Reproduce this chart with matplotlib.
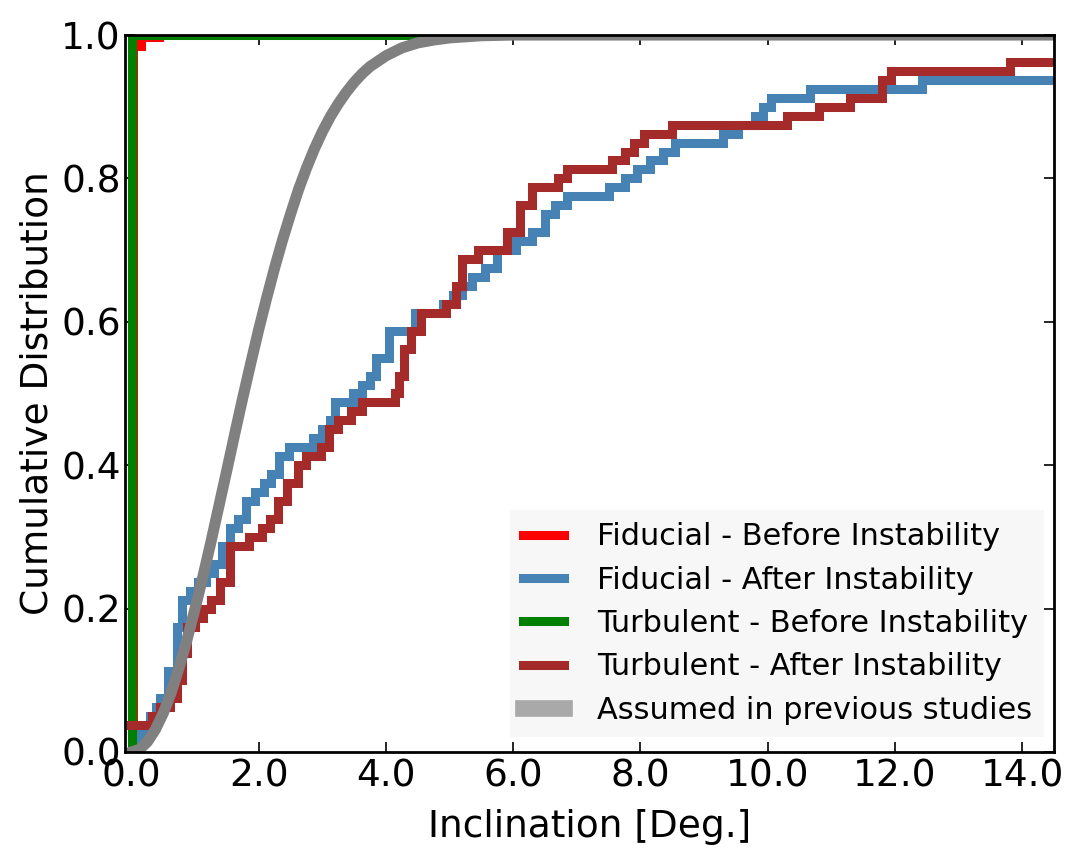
import matplotlib
matplotlib.use('Agg')
import matplotlib.pyplot as plt
from matplotlib.lines import Line2D

# cumulative distributions (step corners)
red_x = [0.0, 0.02, 0.15, 0.43]
red_y = [0.0, 0.985, 0.9975, 0.9975]

green_x = [0.0, 0.01, 14.6]
green_y = [0.0, 1.0, 1.0]

blue_x = [0.00, 0.09, 0.30, 0.38, 0.45, 0.57, 0.72, 0.80, 0.92, 1.05,
          1.18, 1.30, 1.42, 1.55, 1.68, 1.80, 1.95, 2.08, 2.20, 2.32,
          2.48, 2.85, 3.00, 3.12, 3.20, 3.48, 3.62, 3.75, 3.85, 4.05,
          4.45, 4.90, 5.05, 5.20, 5.35, 5.55, 5.75, 6.05, 6.30, 6.50,
          6.65, 6.85, 7.50, 7.75, 7.95, 8.15, 8.35, 8.55, 9.29, 9.54,
          9.80, 9.92, 10.05, 10.66, 12.43, 14.6]
blue_y = [0.0, 0.025, 0.05, 0.0625, 0.075, 0.1125, 0.175, 0.2125, 0.225, 0.2375,
          0.25, 0.2625, 0.2875, 0.3125, 0.325, 0.35, 0.3625, 0.375, 0.3875, 0.4125,
          0.425, 0.4375, 0.45, 0.4625, 0.4875, 0.5, 0.5125, 0.525, 0.55, 0.5875,
          0.6125, 0.625, 0.6375, 0.65, 0.6625, 0.675, 0.70, 0.7125, 0.725, 0.75,
          0.7625, 0.775, 0.7875, 0.80, 0.8125, 0.825, 0.8375, 0.85, 0.8625, 0.875,
          0.8875, 0.90, 0.9125, 0.925, 0.9375, 0.9375]

brown_x = [0.00, 0.32, 0.45, 0.60, 0.72, 0.80, 0.88, 1.00, 1.12, 1.25,
           1.40, 1.55, 1.85, 2.05, 2.18, 2.30, 2.45, 2.62, 2.75, 2.98,
           3.10, 3.25, 3.45, 3.62, 4.15, 4.20, 4.28, 4.40, 4.55, 4.95,
           5.10, 5.20, 5.45, 5.90, 6.10, 6.30, 6.70, 6.85, 7.55, 7.75,
           7.90, 8.05, 8.50, 10.31, 10.81, 11.30, 11.80, 11.94, 13.80, 14.6]
brown_y = [0.0375, 0.05, 0.0625, 0.075, 0.10, 0.1375, 0.175, 0.1875, 0.20, 0.2125,
           0.2375, 0.2875, 0.30, 0.3125, 0.325, 0.35, 0.375, 0.40, 0.4125, 0.425,
           0.45, 0.4625, 0.475, 0.4875, 0.50, 0.525, 0.5625, 0.5875, 0.6125, 0.625,
           0.65, 0.6875, 0.70, 0.725, 0.7625, 0.7875, 0.80, 0.8125, 0.825, 0.8375,
           0.85, 0.8625, 0.875, 0.8875, 0.90, 0.9125, 0.9375, 0.95, 0.9625, 0.9625]

# assumed distribution, points
gray_x = [0.0, 0.125, 0.25, 0.375, 0.5, 0.625, 0.75, 0.875, 1.0, 1.125,
          1.25, 1.375, 1.5, 1.625, 1.75, 1.875, 2.0, 2.125, 2.25, 2.375,
          2.5, 2.625, 2.75, 2.875, 3.0, 3.125, 3.25, 3.375, 3.5, 3.625,
          3.75, 4.0, 4.25, 4.5, 4.75, 5.0, 5.5, 6.0, 14.6]
gray_y = [0.0, 0.0035, 0.014, 0.031, 0.054, 0.083, 0.118, 0.157, 0.20, 0.245,
          0.293, 0.343, 0.393, 0.444, 0.494, 0.542, 0.589, 0.633, 0.675, 0.714,
          0.75, 0.784, 0.814, 0.841, 0.865, 0.886, 0.904, 0.920, 0.934, 0.946,
          0.956, 0.971, 0.982, 0.989, 0.993, 0.996, 0.999, 1.0, 1.0]

labels = ['Fiducial - Before Instability', 'Fiducial - After Instability',
          'Turbulent - Before Instability', 'Turbulent - After Instability',
          'Assumed in previous studies']
xticks = [0, 2, 4, 6, 8, 10, 12, 14]
yticks = [0.0, 0.2, 0.4, 0.6, 0.8, 1.0]

plt.rcParams['font.family'] = 'DejaVu Sans'

fig = plt.figure(figsize=(10.77, 8.6), dpi=100)
ax = fig.add_axes([0.1161, 0.1256, 0.8626, 0.8337])

lw = 6.5
ax.step(red_x, red_y, where='post', color='red', lw=lw, solid_joinstyle='miter')
ax.step(blue_x, blue_y, where='post', color='steelblue', lw=lw, solid_joinstyle='miter')
ax.step(green_x, green_y, where='post', color='green', lw=lw, solid_joinstyle='miter')
ax.step(brown_x, brown_y, where='post', color='brown', lw=lw, solid_joinstyle='miter')
ax.plot(gray_x, gray_y, color='gray', lw=8)

ax.set_xlim(-0.1, 14.5)
ax.set_ylim(0, 1)
ax.set_xticks(xticks)
ax.set_xticklabels(['%.1f' % t for t in xticks])
ax.set_yticks(yticks)
ax.set_yticklabels(['%.1f' % t for t in yticks])
ax.tick_params(direction='in', top=True, right=True, length=7, width=1.2,
               labelsize=27)
ax.tick_params(axis='x', pad=5)
ax.tick_params(axis='y', pad=3)
for s in ax.spines.values():
    s.set_linewidth(2)

ax.set_xlabel('Inclination [Deg.]', fontsize=27, labelpad=10)
ax.set_ylabel('Cumulative Distribution', fontsize=27)

handles = [Line2D([], [], color='red', lw=lw),
           Line2D([], [], color='steelblue', lw=lw),
           Line2D([], [], color='green', lw=lw),
           Line2D([], [], color='brown', lw=lw),
           Line2D([], [], color='darkgray', lw=12)]
leg = ax.legend(handles, labels, loc='lower right', bbox_to_anchor=(1.006, 0.0),
                fontsize=21.9, handlelength=1.35, handletextpad=1.1,
                labelspacing=0.47, fancybox=False, borderaxespad=0.5)
leg.get_frame().set_facecolor('#f6f6f6')
leg.get_frame().set_edgecolor('none')

fig.savefig('out.png', dpi=100)
